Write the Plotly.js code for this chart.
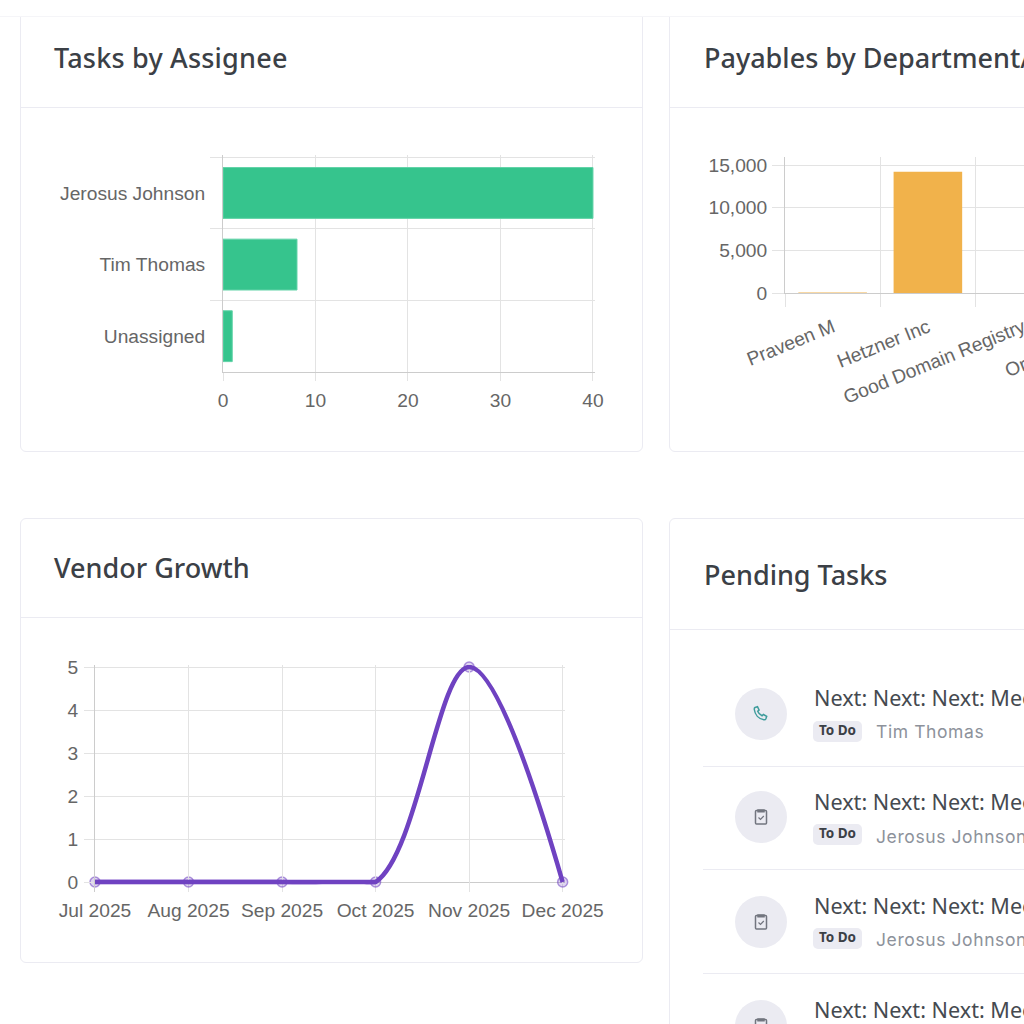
<!DOCTYPE html>
<html>
<head>
<meta charset="utf-8">
<script src="https://cdn.plot.ly/plotly-3.0.1.min.js"></script>
<style>
html,body{margin:0;padding:0;width:1024px;height:1024px;overflow:hidden;background:#fff;}
body{position:relative;font-family:"Noto Sans",sans-serif;}
.topbar{position:absolute;left:0;top:0;width:1024px;height:16px;background:#fff;border-bottom:1px solid #f5f5f8;z-index:5;}
.card{position:absolute;background:#fff;border:1px solid #ebebf2;border-radius:6px;box-sizing:border-box;}
.rule{position:absolute;height:1px;background:#ebebf2;}
.title{position:absolute;font-size:27px;font-weight:500;color:#3b4046;line-height:34px;white-space:nowrap;z-index:6;}
.plot{position:absolute;}
.circle{position:absolute;left:735px;width:52px;height:52px;border-radius:50%;background:#ebebf2;}
.circle svg{position:absolute;left:16px;top:16px;}
.task{position:absolute;left:814px;font-size:21.6px;color:#454a50;white-space:nowrap;line-height:28px;}
.badge{position:absolute;left:813px;width:49px;height:21px;border-radius:5px;background:#ebebf2;color:#3b4046;font:bold 13.5px/19px "Noto Sans",sans-serif;text-align:center;}
.who{position:absolute;left:876px;font-family:Inter,sans-serif;font-size:17.5px;letter-spacing:.6px;color:#8d929b;white-space:nowrap;line-height:24px;}
</style>
</head>
<body>
<div class="topbar"></div>
<div class="card" style="left:20px;top:0;width:623px;height:452px;"></div>
<div class="card" style="left:669px;top:0;width:400px;height:452px;"></div>
<div class="card" style="left:20px;top:518px;width:623px;height:445px;"></div>
<div class="card" style="left:669px;top:518px;width:400px;height:600px;"></div>
<div class="rule" style="left:21px;top:107px;width:621px;"></div>
<div class="rule" style="left:670px;top:107px;width:354px;"></div>
<div class="rule" style="left:21px;top:617px;width:621px;"></div>
<div class="rule" style="left:670px;top:629px;width:354px;"></div>
<div class="title" style="left:54px;top:41px;letter-spacing:.2px;">Tasks by Assignee</div>
<div class="title" style="left:704px;top:41px;">Payables by Department/</div>
<div class="title" style="left:54px;top:551px;">Vendor Growth</div>
<div class="title" style="left:704px;top:558px;">Pending Tasks</div>

<div id="assignee" class="plot" style="left:20px;top:120px;width:622px;height:320px;"></div>
<div id="payables" class="plot" style="left:670px;top:120px;width:600px;height:325px;"></div>
<div id="vendors" class="plot" style="left:20px;top:630px;width:622px;height:320px;"></div>

<div id="tasks"></div>
<div class="rule" style="left:703px;top:766px;width:321px;"></div>
<div class="rule" style="left:703px;top:869px;width:321px;"></div>
<div class="rule" style="left:703px;top:973px;width:321px;"></div>

<script>
var assigneeNames = ['Jerosus Johnson', 'Tim Thomas', 'Unassigned'];
var assigneeTasks = [40, 8, 1];

var payableNames = ['Praveen M', 'Hetzner Inc', 'Good Domain Registry', 'Or'];
var payableValues = [60, 14200, 0, 0];

var vendorMonths = ['Jul 2025', 'Aug 2025', 'Sep 2025', 'Oct 2025', 'Nov 2025', 'Dec 2025'];
var vendorCounts = [0, 0, 0, 0, 5, 0];

var taskTitles = ['Next: Next: Next: Mee', 'Next: Next: Next: Mee', 'Next: Next: Next: Mee', 'Next: Next: Next: Mee'];
var taskPeople = ['Tim Thomas', 'Jerosus Johnson', 'Jerosus Johnson'];

var GRID = '#e3e3e3', AXIS = '#cccccc', TICKTEXT = '#666666';
var tickFont = {family: '"Liberation Sans", Arial, sans-serif', size: 19.2, color: TICKTEXT};
var config = {displayModeBar: false, staticPlot: true};

function axisBase() {
  return {
    showgrid: true, gridcolor: GRID, gridwidth: 1,
    showline: true, linecolor: AXIS, linewidth: 1,
    zeroline: false, ticks: 'outside', tickcolor: GRID, tickwidth: 1,
    tickfont: tickFont, automargin: false, fixedrange: true
  };
}
function base(margin) {
  return {margin: margin, paper_bgcolor: 'rgba(0,0,0,0)', plot_bgcolor: 'rgba(0,0,0,0)', showlegend: false, font: tickFont};
}

// Tasks by Assignee
var l1 = base({l: 203, r: 47, t: 35, b: 68, pad: 0});
l1.bargap = 0.29;
l1.xaxis = Object.assign(axisBase(), {range: [0, 40.22], tick0: 0, dtick: 10, ticklen: 8, ticklabelstandoff: 3});
l1.yaxis = Object.assign(axisBase(), {type: 'category', range: [2.5, -0.53], tickson: 'boundaries', ticklen: 12, ticklabelstandoff: 13});
Plotly.newPlot('assignee', [{
  type: 'bar', orientation: 'h', x: assigneeTasks, y: assigneeNames,
  marker: {color: '#36C48D', line: {color: '#62d3a8', width: 1}}
}], l1, config);

// Payables
var l2 = base({l: 115, r: 104, t: 37, b: 152, pad: 0});
l2.bargap = 0.28;
var payableTickText = payableNames.map(function (n, i) {
  return i === payableNames.length - 1 ? n + new Array(20).join('\u00a0') : n;
});
l2.xaxis = Object.assign(axisBase(), {
  type: 'category', range: [-0.5, 3.5], tickson: 'boundaries', ticklen: 13, tickangle: -22, ticklabelstandoff: 15,
  tickmode: 'array', tickvals: payableNames, ticktext: payableTickText
});
l2.yaxis = Object.assign(axisBase(), {range: [0, 15937], tick0: 0, dtick: 5000, tickformat: ',d', ticklen: 12, ticklabelstandoff: 1});
Plotly.newPlot('payables', [{
  type: 'bar', x: payableNames, y: payableValues,
  marker: {color: '#F1B24B', line: {width: 0}}
}], l2, config);

// Vendor Growth: the smoothed curve sits on a hidden axis whose clip edge stops just under zero,
// so its dip below the baseline is cut off; a straight run covers the flat months.
var flatCount = 4;
var l3 = base({l: 75, r: 77, t: 35, b: 58, pad: 0});
l3.xaxis = Object.assign(axisBase(), {type: 'category', categoryorder: 'array', categoryarray: vendorMonths, range: [0, 5.025], ticks: '', showline: false, tickangle: 0, ticklabelstandoff: 5});
l3.yaxis = Object.assign(axisBase(), {range: [-0.2326, 5.047], tick0: 0, dtick: 1, ticklen: 10, ticklabelstandoff: 2, zeroline: true, zerolinecolor: AXIS, zerolinewidth: 1});
l3.yaxis2 = {domain: [0.0341, 1], range: [-0.0523, 5.047], visible: false, anchor: 'x', fixedrange: true};
Plotly.newPlot('vendors', [
  {type: 'scatter', mode: 'markers', x: vendorMonths, y: vendorCounts, cliponaxis: false,
   marker: {size: 10, color: 'rgba(111,66,193,0.22)', line: {color: 'rgba(111,66,193,0.55)', width: 1.5}}},
  {type: 'scatter', mode: 'lines', x: vendorMonths.slice(0, flatCount), y: vendorCounts.slice(0, flatCount), cliponaxis: false,
   line: {color: '#6F42C1', width: 4.5}},
  {type: 'scatter', mode: 'lines', x: vendorMonths, y: vendorCounts, yaxis: 'y2', cliponaxis: true,
   line: {color: '#6F42C1', width: 4.5, shape: 'spline', smoothing: 1.0}}
], l3, config);

// Pending task list chrome
var phone = '<svg width="20" height="20" viewBox="0 0 20 20" fill="none" stroke="#3f9c9c" stroke-width="1.5"><path d="M4 3.5l2.5-.8 1.6 3.4-1.4 1.2c.8 2 2.3 3.6 4.3 4.5l1.4-1.3 3.3 1.8-.8 2.4c-.3.8-1.1 1.1-2 1C7.600 15 4 10.800 3.300 5.500c-.1-.9.1-1.700.7-2z"/></svg>';
var clip = '<svg width="20" height="20" viewBox="0 0 20 20" fill="none" stroke="#72757f" stroke-width="1.5"><rect x="4.500" y="3.500" width="11" height="13.500" rx="1"/><path d="M7 3h6v1.800H7z"/><path d="M7.500 10.500l2 2 3.300-3.500" stroke-width="1.200"/></svg>';
var rows = [
  {c: 688, t: 684, b: 721, w: 720, icon: phone},
  {c: 791, t: 788, b: 824, w: 825, icon: clip},
  {c: 896, t: 892, b: 928, w: 928, icon: clip},
  {c: 1000, t: 996, b: null, w: null, icon: clip}
];
var html = '';
rows.forEach(function (r, i) {
  html += '<div class="circle" style="top:' + r.c + 'px">' + r.icon + '</div>';
  html += '<div class="task" style="top:' + r.t + 'px">' + taskTitles[i] + '</div>';
  if (r.b !== null) {
    html += '<div class="badge" style="top:' + r.b + 'px">To Do</div>';
    html += '<div class="who" style="top:' + r.w + 'px">' + taskPeople[i] + '</div>';
  }
});
document.getElementById('tasks').innerHTML = html;
</script>
</body>
</html>
